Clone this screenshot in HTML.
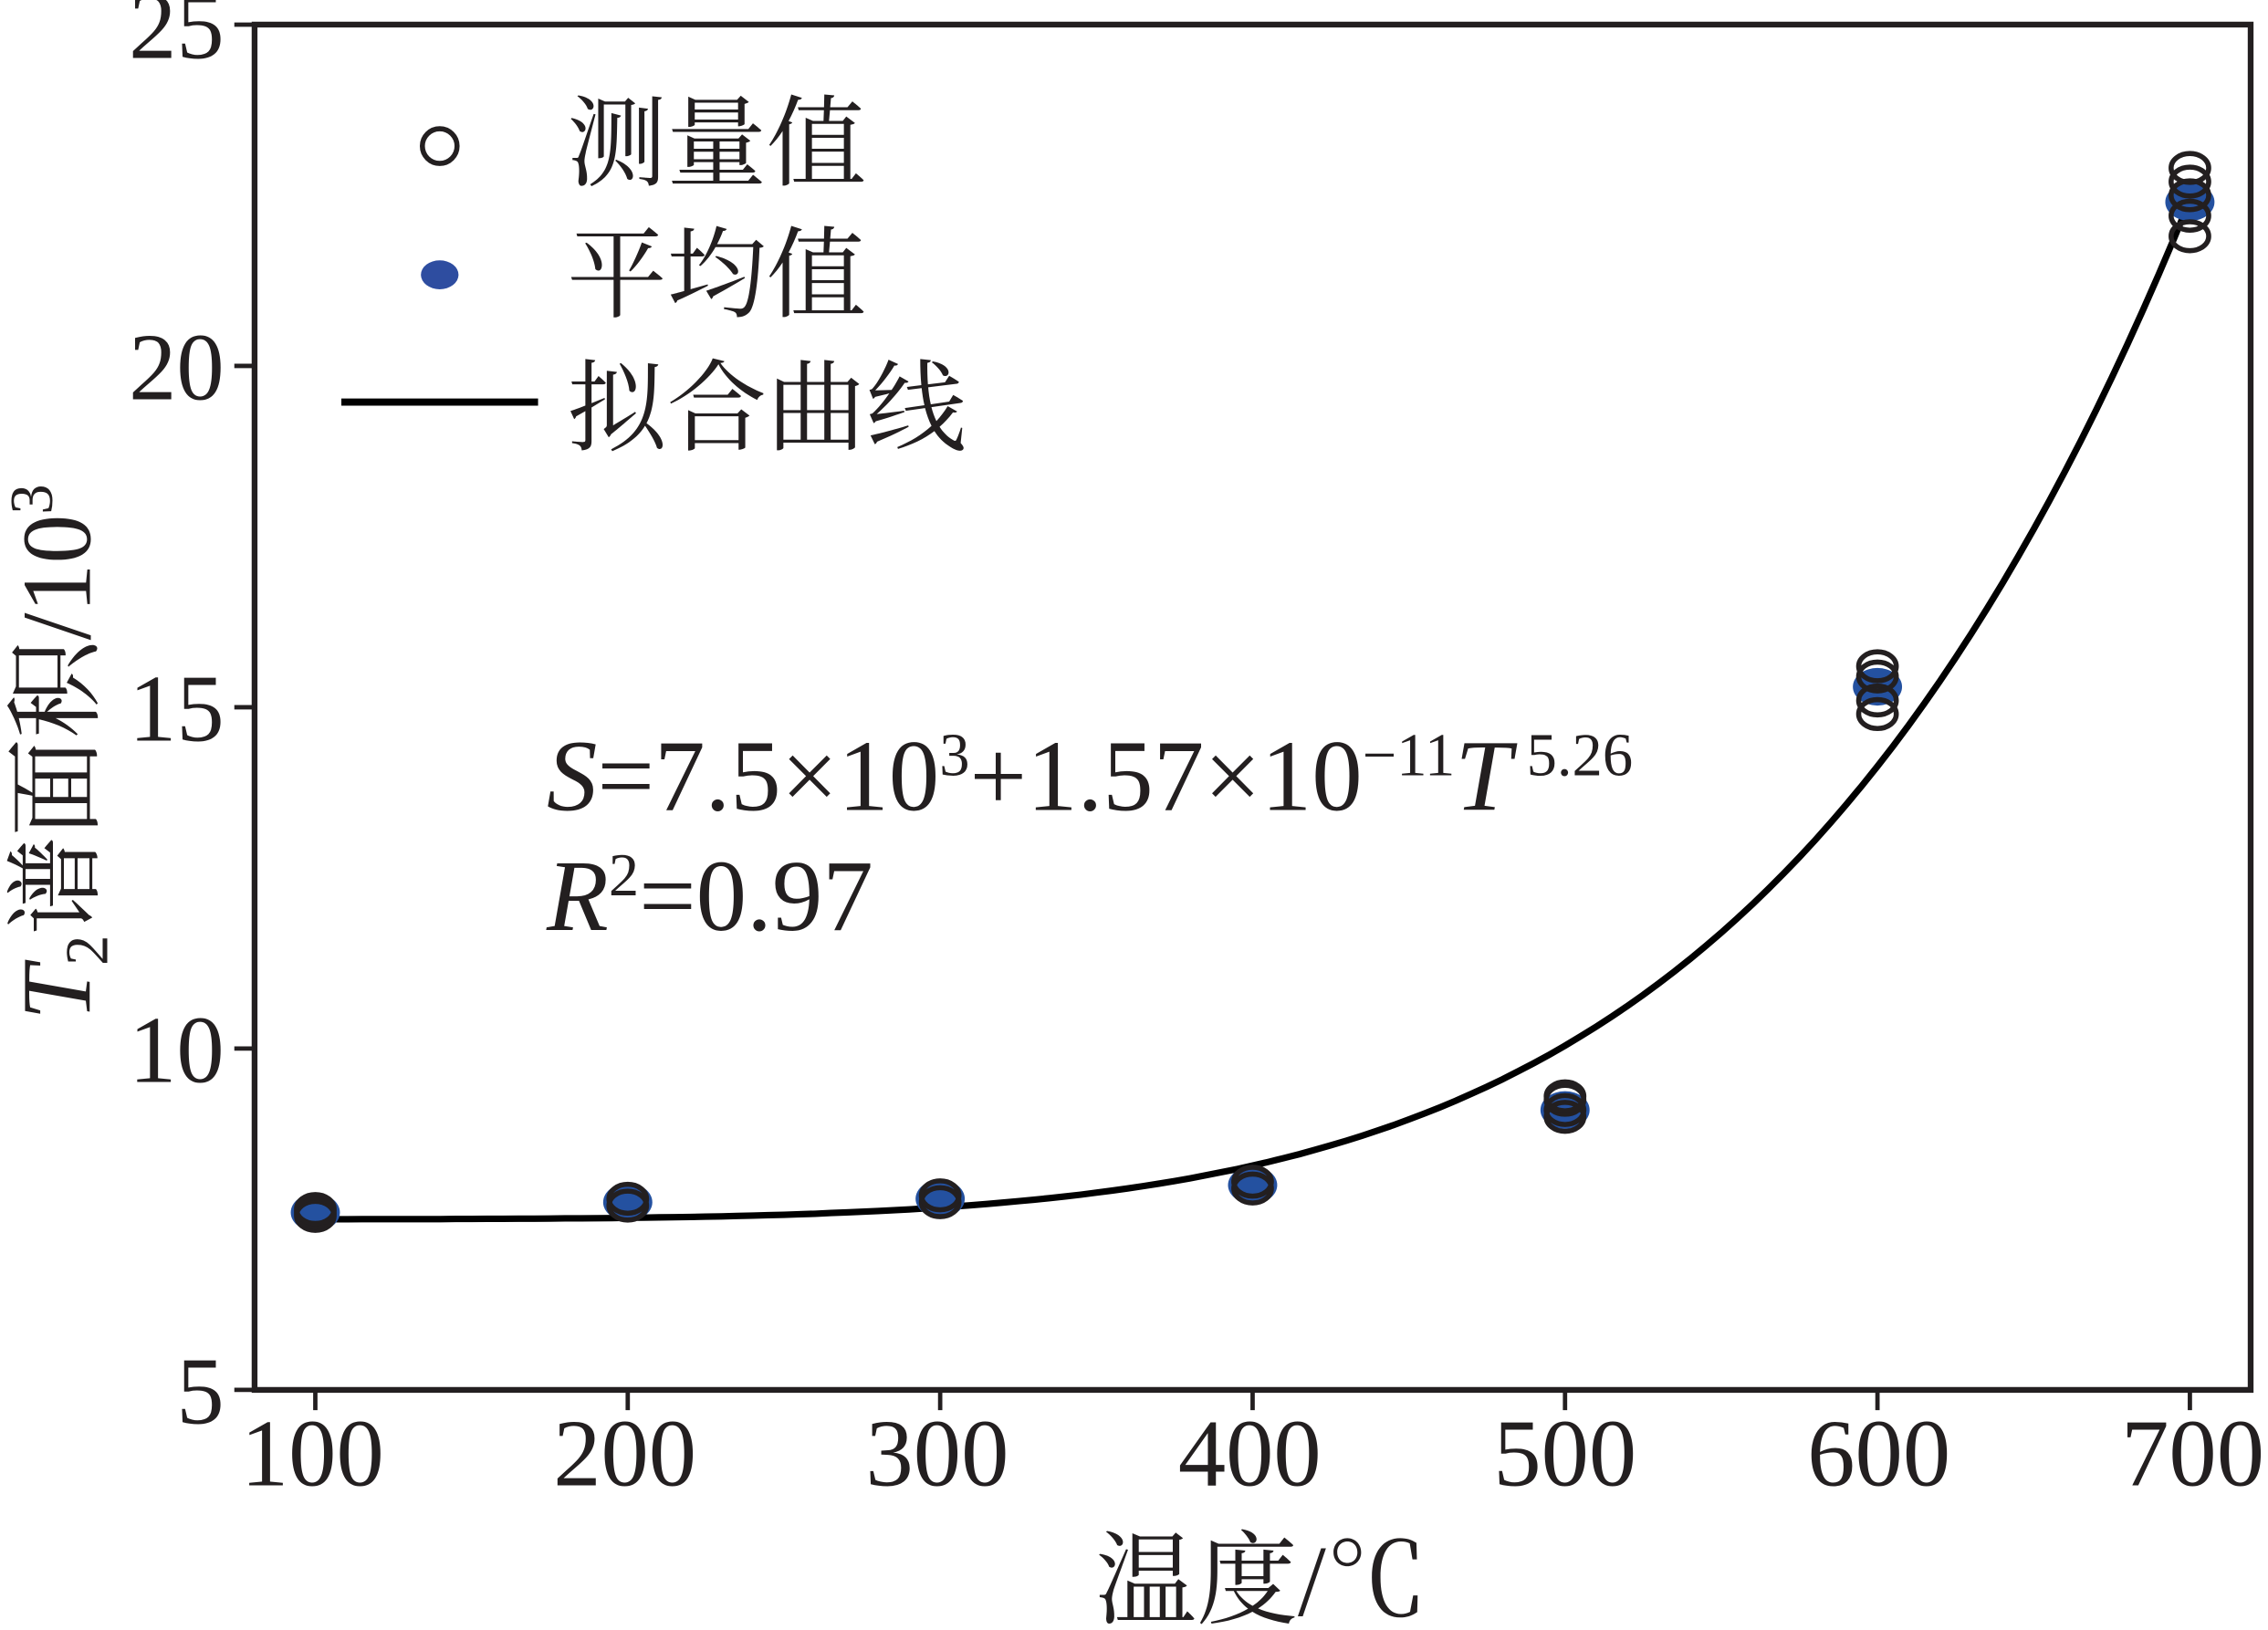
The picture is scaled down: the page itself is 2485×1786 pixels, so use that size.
<!DOCTYPE html>
<html><head><meta charset="utf-8"><style>html,body{margin:0;padding:0;background:#fff}svg{display:block}</style></head>
<body>
<svg width="2485" height="1786" viewBox="0 0 1568 1127" preserveAspectRatio="none" xmlns="http://www.w3.org/2000/svg">
<g font-family="'Liberation Serif','Noto Serif CJK SC',serif" fill="#231f20">
<rect x="176" y="17" width="1380" height="944" fill="none" stroke="#231f20" stroke-width="4"/>
<g stroke="#231f20" stroke-width="3">
<line x1="162" y1="17" x2="176" y2="17"/><line x1="162" y1="253" x2="176" y2="253"/><line x1="162" y1="489" x2="176" y2="489"/><line x1="162" y1="725" x2="176" y2="725"/><line x1="162" y1="961" x2="176" y2="961"/>
<line x1="218" y1="961" x2="218" y2="975"/><line x1="434" y1="961" x2="434" y2="975"/><line x1="650" y1="961" x2="650" y2="975"/><line x1="866" y1="961" x2="866" y2="975"/><line x1="1082" y1="961" x2="1082" y2="975"/><line x1="1298" y1="961" x2="1298" y2="975"/><line x1="1514" y1="961" x2="1514" y2="975"/>
</g>
<g font-size="66" text-anchor="end">
<text x="155" y="40">25</text><text x="155" y="276">20</text><text x="155" y="512">15</text><text x="155" y="748">10</text><text x="155" y="984">5</text>
</g>
<g font-size="66" text-anchor="middle">
<text x="216" y="1027">100</text><text x="432" y="1027">200</text><text x="648" y="1027">300</text><text x="864" y="1027">400</text><text x="1082" y="1027">500</text><text x="1299" y="1027">600</text><text x="1516" y="1027">700</text>
</g>
<text x="872" y="1117" font-size="70" text-anchor="middle">温度/℃</text>
<text transform="translate(62,520) rotate(-90)" font-size="68" text-anchor="middle"><tspan font-style="italic">T</tspan><tspan font-size="42" dy="12">2</tspan><tspan dy="-12">谱面积/10</tspan><tspan font-size="42" dy="-26">3</tspan></text>
<circle cx="304" cy="101" r="12" fill="none" stroke="#231f20" stroke-width="3.5"/>
<text x="392" y="123" font-size="69">测量值</text>
<ellipse cx="304" cy="190" rx="13" ry="10" fill="#2e4da0"/>
<text x="392" y="214" font-size="69">平均值</text>
<line x1="236" y1="278" x2="372" y2="278" stroke="#000" stroke-width="5"/>
<text x="392" y="306" font-size="69">拟合曲线</text>
<text x="378" y="560" font-size="70"><tspan font-style="italic">S</tspan>=7.5×10<tspan font-size="42" dy="-24">3</tspan><tspan dy="24">+1.57×10</tspan><tspan font-size="42" dy="-24">−11</tspan><tspan dy="24" font-style="italic">T</tspan><tspan font-size="42" dy="-24"> 5.26</tspan></text>
<text x="378" y="643" font-size="70"><tspan font-style="italic">R</tspan><tspan font-size="42" dy="-24">2</tspan><tspan dy="24">=0.97</tspan></text>
<path id="fit" fill="none" stroke="#000" stroke-width="4.5" d=""/>
<g id="pts"></g>
</g>
</svg>
<script>
(function(){
var X=function(t){return 218+(t-100)*2.16};var Y=function(v){return 961-(v-5)*47.2};
var d="";for(var t=100;t<=700;t+=5){var v=7.5+1.57e-11*Math.pow(t,5.26)/1000*1.03;d+=(t==100?"M":"L")+X(t).toFixed(1)+","+Y(v).toFixed(1);}
document.getElementById("fit").setAttribute("d",d);
var avg=[[100,7.6],[200,7.75],[300,7.8],[400,8.0],[500,9.1],[600,15.3],[700,22.4]];
var meas=[[100,7.55],[100,7.6],[100,7.65],[200,7.7],[200,7.8],[300,7.75],[300,7.85],[400,7.95],[400,8.05],[500,9.0],[500,9.1],[500,9.25],[500,9.3],[600,14.9],[600,15.1],[600,15.45],[600,15.6],[700,21.9],[700,22.2],[700,22.5],[700,22.7],[700,22.9]];
var ns="http://www.w3.org/2000/svg",g=document.getElementById("pts");
avg.forEach(function(p){var e=document.createElementNS(ns,"ellipse");e.setAttribute("cx",X(p[0]));e.setAttribute("cy",Y(p[1]));e.setAttribute("rx",17);e.setAttribute("ry",13);e.setAttribute("fill","#2451a0");g.appendChild(e);});
meas.forEach(function(p){var e=document.createElementNS(ns,"ellipse");e.setAttribute("cx",X(p[0]));e.setAttribute("cy",Y(p[1]));e.setAttribute("rx",13);e.setAttribute("ry",10);e.setAttribute("fill","none");e.setAttribute("stroke","#231f20");e.setAttribute("stroke-width",3.5);g.appendChild(e);});
})();
</script>
</body></html>
